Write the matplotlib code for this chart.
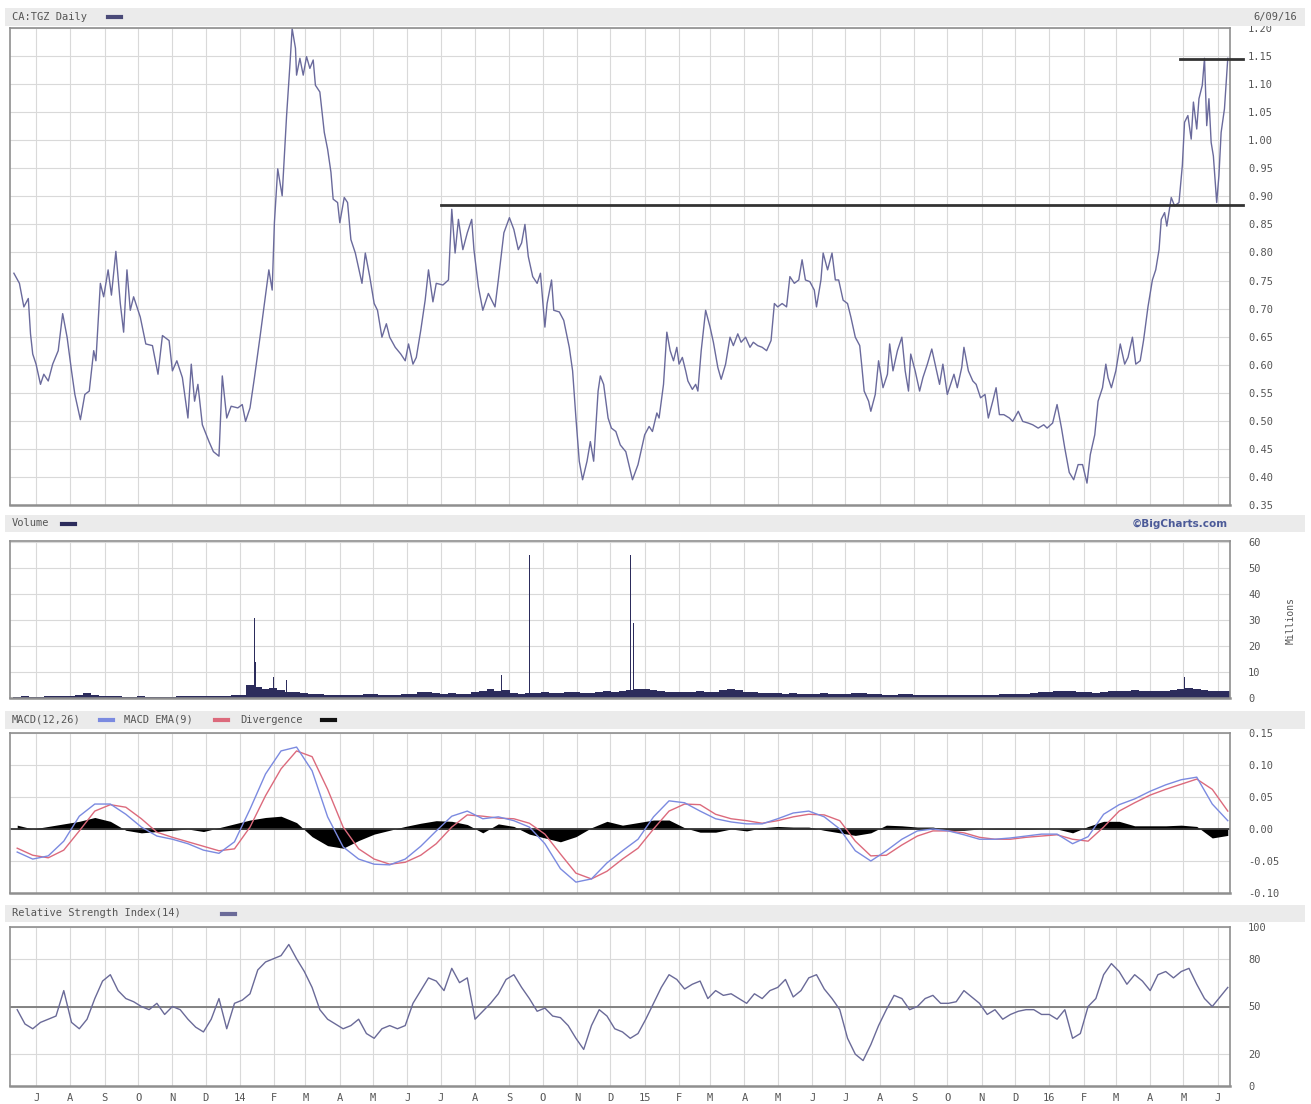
import matplotlib
matplotlib.use("Agg")
import matplotlib.pyplot as plt
from matplotlib.lines import Line2D
from matplotlib.patches import Rectangle
import pandas as pd

W, H = 1311, 1104

# ---- price (close) ----
price_2013 = [
    ("2013-06-11", 0.763), ("2013-06-16", 0.745), ("2013-06-20", 0.703), ("2013-06-24", 0.718),
    ("2013-06-26", 0.655), ("2013-06-28", 0.619), ("2013-07-01", 0.601), ("2013-07-05", 0.565),
    ("2013-07-08", 0.583), ("2013-07-12", 0.571), ("2013-07-16", 0.601), ("2013-07-21", 0.625),
    ("2013-07-25", 0.691), ("2013-07-29", 0.649), ("2013-08-02", 0.589), ("2013-08-05", 0.547),
    ("2013-08-10", 0.502), ("2013-08-14", 0.547), ("2013-08-18", 0.553), ("2013-08-22", 0.625),
    ("2013-08-24", 0.607), ("2013-08-28", 0.745), ("2013-08-31", 0.721), ("2013-09-04", 0.769),
    ("2013-09-07", 0.724), ("2013-09-11", 0.802), ("2013-09-15", 0.709), ("2013-09-18", 0.658),
    ("2013-09-21", 0.769), ("2013-09-24", 0.697), ("2013-09-27", 0.721), ("2013-10-03", 0.685),
    ("2013-10-08", 0.637), ("2013-10-14", 0.634), ("2013-10-19", 0.583), ("2013-10-23", 0.652),
    ("2013-10-29", 0.643), ("2013-11-01", 0.589), ("2013-11-05", 0.607), ("2013-11-10", 0.577),
    ("2013-11-15", 0.505), ("2013-11-18", 0.601), ("2013-11-21", 0.535), ("2013-11-24", 0.565),
    ("2013-11-28", 0.493), ("2013-12-04", 0.463), ("2013-12-08", 0.445), ("2013-12-13", 0.437),
    ("2013-12-16", 0.580), ("2013-12-20", 0.505), ("2013-12-24", 0.526), ("2013-12-30", 0.523),
]
price_2014 = [
    ("2014-01-03", 0.529), ("2014-01-06", 0.499), ("2014-01-10", 0.523), ("2014-01-14", 0.577),
    ("2014-01-19", 0.649), ("2014-01-23", 0.709), ("2014-01-27", 0.769), ("2014-01-30", 0.733),
    ("2014-02-01", 0.853), ("2014-02-04", 0.949), ("2014-02-08", 0.901), ("2014-02-12", 1.044),
    ("2014-02-15", 1.134), ("2014-02-17", 1.199), ("2014-02-20", 1.164), ("2014-02-21", 1.116),
    ("2014-02-24", 1.146), ("2014-02-27", 1.116), ("2014-03-02", 1.149), ("2014-03-05", 1.128),
    ("2014-03-08", 1.143), ("2014-03-10", 1.098), ("2014-03-14", 1.086), ("2014-03-18", 1.014),
    ("2014-03-21", 0.984), ("2014-03-24", 0.943), ("2014-03-26", 0.895), ("2014-03-30", 0.889),
    ("2014-04-01", 0.853), ("2014-04-05", 0.898), ("2014-04-08", 0.889), ("2014-04-11", 0.823),
    ("2014-04-15", 0.799), ("2014-04-21", 0.745), ("2014-04-24", 0.799), ("2014-04-28", 0.757),
    ("2014-05-02", 0.709), ("2014-05-05", 0.697), ("2014-05-09", 0.649), ("2014-05-13", 0.673),
    ("2014-05-16", 0.649), ("2014-05-21", 0.631), ("2014-05-26", 0.619), ("2014-05-30", 0.607),
    ("2014-06-02", 0.637), ("2014-06-06", 0.601), ("2014-06-09", 0.613), ("2014-06-13", 0.661),
    ("2014-06-17", 0.715), ("2014-06-20", 0.769), ("2014-06-24", 0.712), ("2014-06-27", 0.745),
    ("2014-07-03", 0.742), ("2014-07-08", 0.751), ("2014-07-11", 0.877), ("2014-07-14", 0.799),
    ("2014-07-17", 0.859), ("2014-07-21", 0.805), ("2014-07-25", 0.835), ("2014-07-29", 0.859),
    ("2014-07-31", 0.805), ("2014-08-04", 0.739), ("2014-08-08", 0.697), ("2014-08-13", 0.727),
    ("2014-08-19", 0.703), ("2014-08-22", 0.751), ("2014-08-27", 0.835), ("2014-09-01", 0.862),
    ("2014-09-05", 0.841), ("2014-09-09", 0.805), ("2014-09-12", 0.817), ("2014-09-15", 0.850),
    ("2014-09-18", 0.793), ("2014-09-22", 0.757), ("2014-09-26", 0.745), ("2014-09-29", 0.763),
    ("2014-10-03", 0.667), ("2014-10-05", 0.709), ("2014-10-09", 0.751), ("2014-10-11", 0.697),
    ("2014-10-16", 0.694), ("2014-10-20", 0.679), ("2014-10-25", 0.631), ("2014-10-28", 0.589),
    ("2014-10-31", 0.505), ("2014-11-03", 0.428), ("2014-11-06", 0.395), ("2014-11-10", 0.428),
    ("2014-11-13", 0.463), ("2014-11-16", 0.428), ("2014-11-20", 0.553), ("2014-11-22", 0.580),
    ("2014-11-25", 0.565), ("2014-11-29", 0.505), ("2014-12-02", 0.487), ("2014-12-06", 0.481),
    ("2014-12-10", 0.457), ("2014-12-15", 0.445), ("2014-12-21", 0.395), ("2014-12-26", 0.422),
]
price_2015 = [
    ("2015-01-01", 0.475), ("2015-01-05", 0.490), ("2015-01-08", 0.481), ("2015-01-12", 0.514),
    ("2015-01-14", 0.505), ("2015-01-18", 0.565), ("2015-01-21", 0.658), ("2015-01-24", 0.625),
    ("2015-01-27", 0.607), ("2015-01-30", 0.631), ("2015-02-01", 0.601), ("2015-02-04", 0.613),
    ("2015-02-07", 0.589), ("2015-02-09", 0.571), ("2015-02-13", 0.556), ("2015-02-16", 0.565),
    ("2015-02-18", 0.553), ("2015-02-21", 0.625), ("2015-02-25", 0.697), ("2015-03-01", 0.667),
    ("2015-03-04", 0.640), ("2015-03-08", 0.595), ("2015-03-11", 0.574), ("2015-03-15", 0.601),
    ("2015-03-19", 0.649), ("2015-03-22", 0.634), ("2015-03-26", 0.655), ("2015-03-29", 0.640),
    ("2015-04-02", 0.649), ("2015-04-06", 0.631), ("2015-04-09", 0.640), ("2015-04-13", 0.634),
    ("2015-04-17", 0.631), ("2015-04-21", 0.625), ("2015-04-25", 0.643), ("2015-04-28", 0.709),
    ("2015-05-01", 0.703), ("2015-05-05", 0.709), ("2015-05-09", 0.703), ("2015-05-12", 0.757),
    ("2015-05-16", 0.745), ("2015-05-20", 0.751), ("2015-05-23", 0.787), ("2015-05-26", 0.751),
    ("2015-05-30", 0.748), ("2015-06-03", 0.733), ("2015-06-05", 0.703), ("2015-06-09", 0.751),
    ("2015-06-11", 0.799), ("2015-06-15", 0.769), ("2015-06-19", 0.799), ("2015-06-22", 0.751),
    ("2015-06-25", 0.751), ("2015-06-29", 0.715), ("2015-07-03", 0.709), ("2015-07-06", 0.685),
    ("2015-07-10", 0.649), ("2015-07-14", 0.634), ("2015-07-16", 0.595), ("2015-07-18", 0.553),
    ("2015-07-22", 0.535), ("2015-07-24", 0.517), ("2015-07-28", 0.547), ("2015-07-31", 0.607),
    ("2015-08-04", 0.559), ("2015-08-08", 0.583), ("2015-08-10", 0.637), ("2015-08-13", 0.589),
    ("2015-08-17", 0.625), ("2015-08-21", 0.649), ("2015-08-24", 0.589), ("2015-08-27", 0.553),
    ("2015-08-29", 0.619), ("2015-09-02", 0.589), ("2015-09-06", 0.553), ("2015-09-09", 0.577),
    ("2015-09-13", 0.601), ("2015-09-17", 0.628), ("2015-09-20", 0.601), ("2015-09-24", 0.565),
    ("2015-09-27", 0.601), ("2015-10-01", 0.547), ("2015-10-04", 0.565), ("2015-10-07", 0.583),
    ("2015-10-10", 0.559), ("2015-10-14", 0.595), ("2015-10-16", 0.631), ("2015-10-20", 0.589),
    ("2015-10-24", 0.571), ("2015-10-27", 0.565), ("2015-10-31", 0.541), ("2015-11-04", 0.547),
    ("2015-11-07", 0.505), ("2015-11-11", 0.535), ("2015-11-14", 0.559), ("2015-11-17", 0.511),
    ("2015-11-21", 0.511), ("2015-11-26", 0.505), ("2015-11-29", 0.499), ("2015-12-04", 0.517),
    ("2015-12-08", 0.499), ("2015-12-13", 0.496), ("2015-12-17", 0.493), ("2015-12-22", 0.487),
    ("2015-12-27", 0.493), ("2015-12-30", 0.487),
]
price_2016 = [
    ("2016-01-04", 0.496), ("2016-01-08", 0.529), ("2016-01-12", 0.487), ("2016-01-15", 0.451),
    ("2016-01-19", 0.408), ("2016-01-23", 0.395), ("2016-01-27", 0.422), ("2016-01-31", 0.422),
    ("2016-02-04", 0.389), ("2016-02-07", 0.440), ("2016-02-11", 0.475), ("2016-02-14", 0.535),
    ("2016-02-18", 0.559), ("2016-02-21", 0.601), ("2016-02-23", 0.577), ("2016-02-26", 0.559),
    ("2016-03-01", 0.589), ("2016-03-05", 0.637), ("2016-03-09", 0.601), ("2016-03-12", 0.613),
    ("2016-03-16", 0.649), ("2016-03-19", 0.601), ("2016-03-23", 0.607), ("2016-03-26", 0.643),
    ("2016-03-30", 0.703), ("2016-04-03", 0.751), ("2016-04-06", 0.769), ("2016-04-09", 0.805),
    ("2016-04-11", 0.859), ("2016-04-14", 0.871), ("2016-04-16", 0.847), ("2016-04-20", 0.898),
    ("2016-04-23", 0.883), ("2016-04-27", 0.889), ("2016-04-30", 0.955), ("2016-05-02", 1.032),
    ("2016-05-05", 1.044), ("2016-05-08", 1.002), ("2016-05-10", 1.068), ("2016-05-13", 1.020),
    ("2016-05-15", 1.074), ("2016-05-18", 1.098), ("2016-05-20", 1.146), ("2016-05-22", 1.026),
    ("2016-05-24", 1.074), ("2016-05-26", 0.996), ("2016-05-28", 0.972), ("2016-05-31", 0.889),
    ("2016-06-02", 0.937), ("2016-06-04", 1.014), ("2016-06-07", 1.056), ("2016-06-10", 1.146),
]

# trend lines drawn on the price panel (level, start date)
support_level, support_start = 0.885, "2014-07-01"
top_level, top_start = 1.145, "2016-04-28"

# ---- volume (millions): weekly base + single-day spikes ----
vol_weekly = [
    0.5, 0.6, 0.4, 0.5, 0.6, 0.7, 0.8, 0.6, 1.0, 1.8,
    1.3, 0.9, 0.7, 0.6, 0.5, 0.5, 0.6, 0.5, 0.4, 0.5,
    0.5, 0.6, 0.7, 0.8, 0.7, 0.8, 0.9, 0.9, 1.0, 1.3,
    5.0, 4.2, 3.5, 4.0, 3.0, 2.5, 2.5, 2.0, 1.6, 1.5,
    1.2, 1.2, 1.1, 1.2, 1.3, 1.4, 1.5, 1.3, 1.2, 1.3,
    1.5, 1.7, 2.2, 2.5, 1.8, 1.6, 1.8, 1.5, 1.7, 2.2,
    2.6, 3.5, 2.6, 3.0, 2.1, 1.7, 1.9, 2.1, 2.2, 2.1,
    2.1, 2.4, 2.2, 2.0, 2.1, 2.2, 2.6, 2.4, 2.6, 3.0,
    3.5, 3.3, 3.0, 2.7, 2.5, 2.3, 2.5, 2.3, 2.7, 2.5,
    2.5, 3.0, 3.5, 3.0, 2.5, 2.2, 2.1, 2.0, 1.8, 1.7,
    1.8, 1.7, 1.5, 1.7, 1.8, 1.7, 1.5, 1.7, 2.1, 1.8,
    1.7, 1.5, 1.3, 1.2, 1.5, 1.4, 1.3, 1.2, 1.1, 1.2,
    1.2, 1.1, 1.3, 1.2, 1.1, 1.2, 1.3, 1.4, 1.5, 1.7,
    1.7, 1.9, 2.2, 2.5, 2.6, 2.8, 2.6, 2.4, 2.2, 2.1,
    2.4, 2.6, 2.8, 2.6, 3.0, 2.8, 2.6, 2.6, 2.8, 3.0,
    3.5, 4.0, 3.5, 3.0, 2.8, 2.6, 2.6,
]
vol_spike_dates = ["2014-01-14", "2014-01-15", "2014-01-31", "2014-02-12",
                   "2014-08-25", "2014-09-19", "2014-12-19", "2014-12-22", "2016-05-02"]
vol_spike_values = [31, 14, 8, 7, 9, 55, 55, 29, 8]

# ---- MACD(12,26), EMA(9), divergence - every two weeks ----
macd_line = [
    -0.036, -0.047, -0.042, -0.019, 0.020, 0.039, 0.039, 0.023, 0.003, -0.011,
    -0.016, -0.023, -0.033, -0.038, -0.020, 0.031, 0.086, 0.122, 0.128, 0.091,
    0.019, -0.028, -0.047, -0.055, -0.056, -0.047, -0.027, -0.003, 0.020, 0.028,
    0.016, 0.019, 0.013, 0.003, -0.023, -0.062, -0.083, -0.078, -0.053, -0.034,
    -0.016, 0.019, 0.044, 0.041, 0.028, 0.016, 0.011, 0.008, 0.008, 0.016,
    0.025, 0.028, 0.019, 0.000, -0.034, -0.050, -0.034, -0.016, -0.003, 0.000,
    -0.003, -0.009, -0.016, -0.016, -0.014, -0.011, -0.008, -0.008, -0.023, -0.012,
    0.023, 0.038, 0.047, 0.059, 0.069, 0.077, 0.081, 0.039, 0.013,
]
macd_signal = [
    -0.030, -0.041, -0.045, -0.033, -0.003, 0.028, 0.038, 0.034, 0.016, -0.005,
    -0.013, -0.020, -0.027, -0.034, -0.031, 0.003, 0.052, 0.094, 0.122, 0.113,
    0.062, 0.003, -0.031, -0.047, -0.055, -0.052, -0.041, -0.023, 0.003, 0.022,
    0.020, 0.017, 0.016, 0.009, -0.008, -0.039, -0.069, -0.078, -0.066, -0.047,
    -0.030, 0.000, 0.028, 0.039, 0.038, 0.023, 0.016, 0.013, 0.009, 0.013,
    0.019, 0.023, 0.022, 0.013, -0.019, -0.042, -0.041, -0.025, -0.011, -0.003,
    -0.003, -0.006, -0.013, -0.016, -0.016, -0.013, -0.011, -0.009, -0.016, -0.019,
    0.003, 0.028, 0.041, 0.053, 0.062, 0.070, 0.078, 0.062, 0.028,
]
macd_div = [
    0.006, 0.000, 0.004, 0.008, 0.012, 0.018, 0.012, -0.002, -0.006, -0.004,
    -0.002, 0.000, -0.004, 0.002, 0.008, 0.014, 0.018, 0.020, 0.010, -0.012,
    -0.026, -0.030, -0.018, -0.008, -0.002, 0.004, 0.009, 0.013, 0.012, 0.007,
    -0.006, 0.008, 0.004, -0.008, -0.014, -0.020, -0.012, 0.002, 0.012, 0.006,
    0.010, 0.014, 0.014, 0.002, -0.005, -0.005, 0.000, -0.003, 0.002, 0.004,
    0.003, 0.003, -0.002, -0.006, -0.010, -0.006, 0.006, 0.005, 0.003, 0.003,
    -0.002, -0.002, 0.000, 0.001, 0.001, 0.001, 0.000, 0.000, -0.006, 0.004,
    0.012, 0.012, 0.005, 0.005, 0.005, 0.006, 0.004, -0.014, -0.010,
]

# ---- RSI(14), weekly ----
rsi_values = [
    48, 39, 36, 40, 42, 44, 60, 40, 36, 42,
    55, 66, 70, 60, 55, 53, 50, 48, 52, 45,
    50, 48, 42, 37, 34, 42, 55, 36, 52, 54,
    58, 73, 78, 80, 82, 89, 80, 72, 62, 48,
    42, 39, 36, 38, 42, 33, 30, 36, 38, 36,
    38, 52, 60, 68, 66, 60, 74, 65, 68, 42,
    47, 52, 58, 67, 70, 62, 55, 47, 49, 44,
    43, 38, 30, 23, 38, 48, 44, 36, 34, 30,
    33, 42, 52, 62, 70, 67, 61, 64, 66, 55,
    60, 57, 58, 55, 52, 58, 55, 60, 62, 67,
    56, 60, 68, 70, 61, 55, 48, 30, 20, 16,
    26, 38, 48, 57, 55, 48, 50, 55, 57, 52,
    52, 53, 60, 56, 52, 45, 48, 42, 45, 47,
    48, 48, 45, 45, 42, 48, 30, 33, 50, 55,
    70, 77, 72, 64, 70, 66, 60, 70, 72, 68,
    72, 74, 64, 55, 50, 56, 62,
]

# ---- styling ----
PRICE_C = "#6a6a9c"
VOL_C = "#2c2c5c"
MACD_C = "#7b8ae0"
SIG_C = "#dc6a7c"
RSI_C = "#6a6a98"
GRID_C = "#d9d9d9"
FRAME_C = "#8f8f8f"
TEXT_C = "#555555"
BAND_C = "#ebebeb"
MONO = "DejaVu Sans Mono"


def fx(px):
    return px / W


def fy(py):
    return 1 - py / H


def to_series(*chunks):
    pts = [p for c in chunks for p in c]
    return pd.to_datetime([d for d, _ in pts]), [v for _, v in pts]


price_dates, price_vals = to_series(price_2013, price_2014, price_2015, price_2016)
week_dates = pd.date_range("2013-06-14", periods=len(vol_weekly), freq="7D")
rsi_dates = pd.date_range("2013-06-14", periods=len(rsi_values), freq="7D")
macd_dates = pd.date_range("2013-06-14", periods=len(macd_line), freq="14D")
months = pd.date_range("2013-07-01", "2016-06-01", freq="MS")
month_labels = [str(d.year % 100) if d.month == 1 else "JFMAMJJASOND"[d.month - 1] for d in months]
x_lo, x_hi = pd.Timestamp("2013-06-07 12:00"), pd.Timestamp("2016-06-12")

fig = plt.figure(figsize=(W / 100, H / 100), dpi=100, facecolor="white")


def panel(top, bottom):
    ax = fig.add_axes([fx(10), fy(bottom), fx(1230) - fx(10), (bottom - top) / H])
    ax.set_xlim(x_lo, x_hi)
    ax.set_xticks(months)
    ax.set_xticklabels([])
    ax.tick_params(axis="x", length=0)
    ax.grid(True, color=GRID_C, lw=0.8)
    ax.set_axisbelow(True)
    for s in ax.spines.values():
        s.set_color(FRAME_C)
        s.set_linewidth(1.2)
    ax.spines["bottom"].set_linewidth(1.8)
    ax.yaxis.tick_right()
    ax.tick_params(axis="y", length=0, pad=13, labelsize=7.5, labelcolor=TEXT_C)
    return ax


def header(top, bottom, items, right=None):
    fig.patches.append(Rectangle((fx(5), fy(bottom)), fx(1305) - fx(5), (bottom - top) / H,
                                 transform=fig.transFigure, facecolor=BAND_C, edgecolor="none"))
    yc = fy((top + bottom) / 2)
    for x0, text, sx, color in items:
        fig.text(fx(x0), yc, text, fontsize=7.5, family=MONO, color=TEXT_C, va="center")
        fig.add_artist(Line2D([fx(sx), fx(sx + 13)], [yc, yc], lw=3, color=color,
                              transform=fig.transFigure))
    if right is not None:
        fig.text(*right[0], right[1], **right[2])


# ---- price panel ----
header(8, 26, [(12, "CA:TGZ Daily", 108, "#4a4a78")],
       ((fx(1297), fy(17)), "6/09/16", dict(fontsize=7.5, family=MONO, color=TEXT_C,
                                             ha="right", va="center")))
ax_p = panel(28, 505)
ax_p.plot(price_dates, price_vals, color=PRICE_C, lw=1.0)
ax_p.set_ylim(0.35, 1.20)
p_ticks = [0.35 + 0.05 * i for i in range(18)]
ax_p.set_yticks(p_ticks)
ax_p.set_yticklabels([f"{t:.2f}" for t in p_ticks], family=MONO)
line_end = pd.Timestamp("2016-06-24")
ax_p.plot([pd.Timestamp(support_start), line_end], [support_level] * 2,
          color="#333333", lw=2.0, clip_on=False, zorder=4)
ax_p.plot([pd.Timestamp(top_start), line_end], [top_level] * 2,
          color="#333333", lw=2.0, clip_on=False, zorder=4)

# ---- volume panel ----
header(515, 532, [(12, "Volume", 62, VOL_C)],
       ((fx(1228), fy(523.5)), "\u00a9BigCharts.com", dict(fontsize=7.5, weight="bold",
                                                          color="#4b5a98", ha="right", va="center")))
ax_v = panel(541, 698)
ax_v.bar(week_dates, vol_weekly, width=7, color=VOL_C, lw=0, align="center")
ax_v.bar(pd.to_datetime(vol_spike_dates), vol_spike_values, width=1.3, color=VOL_C, lw=0)
ax_v.set_ylim(0, 60.5)
ax_v.set_yticks(range(0, 61, 10))
ax_v.set_yticklabels([str(t) for t in range(0, 61, 10)], family=MONO)
fig.text(fx(1291), fy(620), "Millions", rotation=90, fontsize=7, family=MONO,
         color=TEXT_C, ha="center", va="center")

# ---- MACD panel ----
header(711, 729, [(12, "MACD(12,26)", 100, MACD_C), (124, "MACD EMA(9)", 215, SIG_C),
                  (240, "Divergence", 322, "#111111")])
ax_m = panel(733, 893)
ax_m.fill_between(macd_dates, 0, macd_div, color="black", lw=0, zorder=2)
ax_m.axhline(0, color="#333333", lw=1.3, zorder=2)
ax_m.plot(macd_dates, macd_signal, color=SIG_C, lw=1.0, zorder=3)
ax_m.plot(macd_dates, macd_line, color=MACD_C, lw=1.0, zorder=3)
ax_m.set_ylim(-0.10, 0.15)
m_ticks = [-0.10, -0.05, 0.0, 0.05, 0.10, 0.15]
ax_m.set_yticks(m_ticks)
ax_m.set_yticklabels([f"{t:.2f}" for t in m_ticks], family=MONO)

# ---- RSI panel ----
header(905, 922, [(12, "Relative Strength Index(14)", 222, RSI_C)])
ax_r = panel(927, 1086)
ax_r.axhline(50, color="#7a7a7a", lw=1.3, zorder=2)
ax_r.plot(rsi_dates, rsi_values, color=RSI_C, lw=1.0, zorder=3)
ax_r.set_ylim(0, 100)
ax_r.set_yticks([0, 20, 50, 80, 100])
ax_r.set_yticklabels(["0", "20", "50", "80", "100"], family=MONO)
ax_r.set_xticklabels(month_labels, family=MONO, fontsize=7.5, color=TEXT_C)
ax_r.tick_params(axis="x", pad=5)

fig.savefig("out.png", dpi=100, facecolor="white")
